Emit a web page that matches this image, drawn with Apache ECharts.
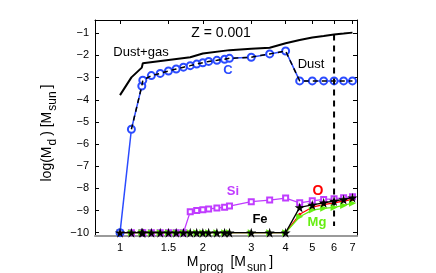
<!DOCTYPE html>
<html><head><meta charset="utf-8">
<script src="https://cdn.jsdelivr.net/npm/echarts@6/dist/echarts.min.js"></script>
<style>html,body{margin:0;padding:0;background:#fff}#c{width:436px;height:273px}</style>
</head><body><div id="c"></div>
<script>
// ---- data ----
const massAll = [1.0,1.1,1.2,1.21,1.3,1.4,1.5,1.6,1.7,1.8,1.9,2.0,2.1,2.25,2.4,2.5,3.0,3.5,4.0,4.5,5.0,5.5,6.0,6.5,7.0];
const carbon = [-10,-5.33,-3.38,-3.12,-2.91,-2.81,-2.70,-2.61,-2.53,-2.46,-2.39,-2.33,-2.27,-2.22,-2.17,-2.13,-2.08,-1.93,-1.80,-3.15,-3.15,-3.15,-3.15,-3.15,-3.15];
const dustMass = [1.1,1.2,1.21,1.3,1.4,1.5,1.6,1.7,1.8,1.9,2.0,2.1,2.25,2.4,2.5,3.0,3.5,4.0,4.5,5.0,5.5,6.0,6.5,7.0];
const dustTotal = [-5.33,-3.38,-3.12,-2.91,-2.81,-2.70,-2.61,-2.53,-2.46,-2.39,-2.33,-2.27,-2.22,-2.17,-2.13,-2.08,-1.93,-1.80,-3.15,-3.15,-3.15,-3.15,-3.15,-3.15];
const gasMass = [1.0,1.1,1.2,1.21,1.8,2.0,2.5,3.0,3.5,4.0,4.5,5.0,5.5,6.0,6.5,7.0];
const dustGas = [-3.79,-2.99,-2.55,-2.35,-2.08,-1.91,-1.76,-1.70,-1.65,-1.45,-1.30,-1.19,-1.12,-1.05,-1.01,-0.97];
const silicon = [-10,-10,-10,-10,-10,-10,-10,-10,-10,-9.05,-9.00,-8.97,-8.93,-8.89,-8.85,-8.80,-8.60,-8.53,-8.44,-8.65,-8.56,-8.50,-8.47,-8.42,-8.38];
const oxygen = [-10,-10,-10,-10,-10,-10,-10,-10,-10,-10,-10,-10,-10,-10,-10,-10,-10,-10,-10,-9.17,-8.85,-8.73,-8.65,-8.57,-8.50];
const magnesium = [-10,-10,-10,-10,-10,-10,-10,-10,-10,-10,-10,-10,-10,-10,-10,-10,-10,-10,-10,-9.28,-8.98,-8.90,-8.86,-8.77,-8.67];
const iron = [-10,-10,-10,-10,-10,-10,-10,-10,-10,-10,-10,-10,-10,-10,-10,-10,-10,-10,-10,-8.86,-8.75,-8.65,-8.57,-8.50,-8.42];
const vlineMass = [6,6];
const vlineVal = [-1.05,-9.7];
const xTicks = [1,1.5,2,3,4,5,6,7];
const yTicks = [-10,-9,-8,-7,-6,-5,-4,-3,-2,-1];
const xRange = [0.811,7.27];
const yRange = [-10.15,-0.4];

// ---- build ----
const FONT = "'Liberation Sans', Arial, Helvetica, sans-serif";
const pts = (xs, ys) => xs.map((m,i) => [Math.log10(m), ys[i]]);
const xTickLog = xTicks.map(t => Math.log10(t));
const xFmt = v => { const t = xTicks.find(t => Math.abs(Math.log10(t)-v) < 1e-6); return t === undefined ? '' : String(t); };
const yFmt = v => (v < 0 ? '\u2212' : '') + Math.abs(v);
const star = 'path://M50,0 L61,35 L98,35 L68,57 L79,91 L50,70 L21,91 L32,57 L2,35 L39,35 Z';

const chart = echarts.init(document.getElementById('c'), null, {renderer:'canvas'});
const xBase = {type:'value', min:Math.log10(xRange[0]), max:Math.log10(xRange[1]), splitLine:{show:false}};
const yBase = {type:'value', min:yRange[0], max:yRange[1], splitLine:{show:false}};
const rich = {
  n:{fontSize:14, height:14, verticalAlign:'top', fontFamily:FONT, color:'#000'},
  s:{fontSize:12, height:25, verticalAlign:'top', fontFamily:FONT, color:'#000', padding:[0,3,0,1]}
};
function lbl(text, x, y, color, size, bold){
  return {type:'text', x:x, y:y, z:100, style:{text:text, fill:color, font:(bold?'bold ':'')+size+'px '+FONT, align:'center', verticalAlign:'middle'}};
}
chart.setOption({
  animation:false,
  grid:{left:95, right:79, top:20, bottom:37, containLabel:false},
  xAxis:[
    Object.assign({}, xBase, {position:'bottom',
      axisLine:{onZero:false, lineStyle:{color:'#9a9a9a', width:2}},
      axisTick:{show:false},
      axisLabel:{customValues:xTickLog, formatter:xFmt, color:'#000', fontSize:11, fontFamily:FONT, margin:6}}),
    Object.assign({}, xBase, {position:'top',
      axisLine:{onZero:false, lineStyle:{color:'#000', width:1}},
      axisTick:{inside:true, length:4, customValues:xTickLog, lineStyle:{color:'#000'}},
      axisLabel:{show:false}})
  ],
  yAxis:[
    Object.assign({}, yBase, {position:'left',
      axisLine:{onZero:false, lineStyle:{color:'#000', width:1}},
      axisTick:{inside:true, length:4, customValues:yTicks, lineStyle:{color:'#000'}},
      axisLabel:{customValues:yTicks, formatter:yFmt, color:'#000', fontSize:11, fontFamily:FONT, margin:6}}),
    Object.assign({}, yBase, {position:'right',
      axisLine:{onZero:false, lineStyle:{color:'#000', width:1}},
      axisTick:{inside:true, length:4, customValues:yTicks, lineStyle:{color:'#000'}},
      axisLabel:{show:false}})
  ],
  series:[
    {type:'line', name:'Dust+gas', data:pts(gasMass, dustGas), symbol:'none', lineStyle:{color:'#000', width:2}, z:3},
    {type:'line', name:'Si', data:pts(massAll, silicon), symbol:'emptyRect', symbolSize:5, itemStyle:{color:'#c03cff', borderColor:'#c03cff'}, lineStyle:{color:'#c03cff', width:1.3}, z:4},
    {type:'line', name:'O', data:pts(massAll, oxygen), symbol:'circle', symbolSize:3, itemStyle:{color:'#ff0000'}, lineStyle:{color:'#ff0000', width:1.3}, z:5},
    {type:'line', name:'Mg', data:pts(massAll, magnesium), symbol:'triangle', symbolRotate:-90, symbolSize:7, itemStyle:{color:'#66ee11'}, lineStyle:{color:'#66ee11', width:1.3}, z:6},
    {type:'line', name:'C', data:pts(massAll, carbon), symbol:'emptyCircle', symbolSize:7, itemStyle:{color:'#2b4bff', borderColor:'#2b4bff', borderWidth:1.3}, lineStyle:{color:'#2b4bff', width:1.5}, z:7},
    {type:'line', name:'Fe', data:pts(massAll, iron), symbol:star, symbolSize:10, itemStyle:{color:'#000'}, lineStyle:{color:'#000', width:1.3}, z:8},
    {type:'line', name:'Dust', data:pts(dustMass, dustTotal), symbol:'none', lineStyle:{color:'#000', width:1.5, type:[5,4]}, z:9},
    {type:'line', name:'split', data:pts(vlineMass, vlineVal), symbol:'none', lineStyle:{color:'#000', width:2, type:[6,5]}, z:9}
  ],
  graphic:[
    lbl('Z = 0.001', 221, 33, '#000', 14, false),
    lbl('Dust+gas', 141, 52, '#000', 13, false),
    lbl('Dust', 311, 64, '#000', 13, false),
    lbl('C', 228, 70, '#2b4bff', 13, true),
    lbl('Si', 233, 191.5, '#c03cff', 13, true),
    lbl('O', 318, 191, '#ff0000', 14, true),
    lbl('Fe', 260, 219, '#000', 13, true),
    lbl('Mg', 317, 222, '#66ee11', 13, true),
    {type:'text', x:230, y:255, z:100, style:{text:'{n|M}{s|prog}{n| [M}{s|sun}{n|]}', rich:rich, align:'center', verticalAlign:'top'}},
    {type:'text', x:40.5, y:133, rotation:Math.PI/2, z:100, style:{text:'{n|log(M}{s|d}{n|) [M}{s|sun}{n|]}', rich:rich, align:'center', verticalAlign:'top'}}
  ]
});
</script></body></html>
